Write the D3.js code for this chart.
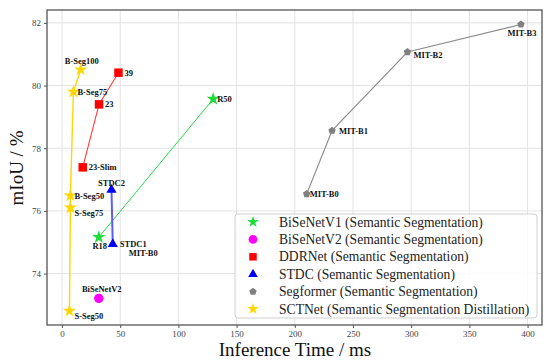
<!DOCTYPE html>
<html>
<head>
<meta charset="utf-8">
<script src="https://cdn.jsdelivr.net/npm/d3@7"></script>
<style>
  body { margin: 0; background: #fff; }
  svg { display: block; }
  text { font-family: "Liberation Serif", "Times New Roman", serif; }
</style>
</head>
<body>
<svg id="chart" width="550" height="364"></svg>
<script>
// values
const bisenetV1Time = [31.6, 129.9]
const bisenetV1Miou = [75.16, 79.57]
const bisenetV1Labels = ['R18', 'R50']

const bisenetV2Time = [31.6]
const bisenetV2Miou = [73.21]
const bisenetV2Labels = ['BiSeNetV2']

const ddrnetTime = [17.8, 31.8, 48.5]
const ddrnetMiou = [77.39, 79.4, 80.41]
const ddrnetLabels = ['23-Slim', '23', '39']

const stdcTime = [43.6, 42.5]
const stdcMiou = [74.94, 76.67]
const stdcLabels = ['STDC1', 'STDC2']

const segformerTime = [210.2, 232, 296.8, 394.3]
const segformerMiou = [76.54, 78.56, 81.07, 81.95]
const segformerLabels = ['MIT-B0', 'MIT-B1', 'MIT-B2', 'MIT-B3']

const sctnetTime = [6.4, 7.2, 7.2, 9.8, 16.1]
const sctnetMiou = [72.81, 76.1, 76.49, 79.8, 80.51]
const sctnetLabels = ['S-Seg50', 'S-Seg75', 'B-Seg50', 'B-Seg75', 'B-Seg100']

const xTicks = [0, 50, 100, 150, 200, 250, 300, 350, 400]
const yTicks = [74, 76, 78, 80, 82]

// stray label that sits next to STDC1 in the original
const extraNote = { text: 'MIT-B0', time: 43.6, miou: 74.94 }

const width = 550
const height = 364
const margin = { top: 10, right: 8, bottom: 39, left: 47 }

const svg = d3.select('#chart')

const x = d3.scaleLinear()
  .domain([-12.9, 412.4])
  .range([margin.left, width - margin.right])

const y = d3.scaleLinear()
  .domain([72.36, 82.41])
  .range([height - margin.bottom, margin.top])

const pentagon = {
  draw(context, size) {
    const r = Math.sqrt(size / 2.378)
    for (let i = 0; i < 5; i++) {
      const a = -Math.PI / 2 + i * 2 * Math.PI / 5
      const px = r * Math.cos(a)
      const py = r * Math.sin(a)
      if (i === 0) context.moveTo(px, py)
      else context.lineTo(px, py)
    }
    context.closePath()
  },
}

const zip = (t, m, l) => t.map((d, i) => ({ time: d, miou: m[i], label: l[i] }))

const series = [
  { name: 'BiSeNetV1 (Semantic Segmentation)', points: zip(bisenetV1Time, bisenetV1Miou, bisenetV1Labels),
    color: '#1fdc3a', lineColor: '#22dd44', lineWidth: 1, symbol: d3.symbolStar, size: 55, legendSize: 42 },
  { name: 'BiSeNetV2 (Semantic Segmentation)', points: zip(bisenetV2Time, bisenetV2Miou, bisenetV2Labels),
    color: '#ff00ff', lineColor: null, symbol: d3.symbolCircle, size: 70, legendSize: 60 },
  { name: 'DDRNet (Semantic Segmentation)', points: zip(ddrnetTime, ddrnetMiou, ddrnetLabels),
    color: '#ff0000', lineColor: '#ff3b3b', lineWidth: 1.1, symbol: d3.symbolSquare, size: 72, legendSize: 56 },
  { name: 'STDC (Semantic Segmentation)', points: zip(stdcTime, stdcMiou, stdcLabels),
    color: '#0000ff', lineColor: '#5b5bff', lineWidth: 2, symbol: d3.symbolTriangle, size: 45, legendSize: 40 },
  { name: 'Segformer (Semantic Segmentation)', points: zip(segformerTime, segformerMiou, segformerLabels),
    color: '#808080', lineColor: '#8c8c8c', lineWidth: 1.1, symbol: pentagon, size: 36, legendSize: 36 },
  { name: 'SCTNet (Semantic Segmentation Distillation)', points: zip(sctnetTime, sctnetMiou, sctnetLabels),
    color: '#ffd700', lineColor: '#ffd700', lineWidth: 1.4, symbol: d3.symbolStar, size: 55, legendSize: 42 },
]

// label placement: [dx, dy, anchor]
const labelPlace = {
  'R18': [1, 12, 'middle'],
  'R50': [4, 3, 'start'],
  'BiSeNetV2': [3, -6, 'middle'],
  '23-Slim': [6, 3, 'start'],
  '23': [6, 3, 'start'],
  '39': [6, 3, 'start'],
  'STDC1': [7, 3, 'start'],
  'STDC2': [0, -4, 'middle'],
  'MIT-B0': [3, 3, 'start'],
  'MIT-B1': [7, 3, 'start'],
  'MIT-B2': [6, 6, 'start'],
  'MIT-B3': [1, 12, 'middle'],
  'S-Seg50': [5, 8, 'start'],
  'S-Seg75': [4, 8, 'start'],
  'B-Seg50': [4, 3, 'start'],
  'B-Seg75': [4, 3, 'start'],
  'B-Seg100': [1, -6, 'middle'],
}

// grid
svg.append('g')
  .selectAll('line')
  .data(xTicks)
  .join('line')
  .attr('x1', (d) => x(d))
  .attr('x2', (d) => x(d))
  .attr('y1', margin.top)
  .attr('y2', height - margin.bottom)
  .attr('stroke', '#e3e3e3')
  .attr('stroke-width', 1)

svg.append('g')
  .selectAll('line')
  .data(yTicks)
  .join('line')
  .attr('x1', margin.left)
  .attr('x2', width - margin.right)
  .attr('y1', (d) => y(d))
  .attr('y2', (d) => y(d))
  .attr('stroke', '#e3e3e3')
  .attr('stroke-width', 1)

// axes
const xAxis = svg.append('g')
  .attr('transform', `translate(0,${height - margin.bottom})`)
  .call(d3.axisBottom(x).tickValues(xTicks).tickSize(3).tickPadding(3))
const yAxis = svg.append('g')
  .attr('transform', `translate(${margin.left},0)`)
  .call(d3.axisLeft(y).tickValues(yTicks).tickSize(3).tickPadding(3))

;[xAxis, yAxis].forEach((g) => {
  g.select('.domain').remove()
  g.selectAll('.tick line').attr('stroke', '#555')
  g.selectAll('.tick text')
    .attr('fill', '#444')
    .style('font-size', '9px')
    .style('font-family', '"Liberation Serif", serif')
})

// frame
svg.append('rect')
  .attr('x', margin.left)
  .attr('y', margin.top)
  .attr('width', width - margin.left - margin.right)
  .attr('height', height - margin.top - margin.bottom)
  .attr('fill', 'none')
  .attr('stroke', '#555')
  .attr('stroke-width', 1.3)

// lines
const line = d3.line()
  .x((d) => x(d.time))
  .y((d) => y(d.miou))

svg.append('g')
  .selectAll('path')
  .data(series.filter((s) => s.lineColor && s.points.length > 1))
  .join('path')
  .attr('d', (s) => line(s.points))
  .attr('fill', 'none')
  .attr('stroke', (s) => s.lineColor)
  .attr('stroke-width', (s) => s.lineWidth)

// markers
series.forEach((s) => {
  svg.append('g')
    .selectAll('path')
    .data(s.points)
    .join('path')
    .attr('transform', (d) => `translate(${x(d.time)},${y(d.miou)})`)
    .attr('d', d3.symbol().type(s.symbol).size(s.size))
    .attr('fill', s.color)
})

// point labels
const allPoints = series.flatMap((s) => s.points)
svg.append('g')
  .selectAll('text')
  .data(allPoints)
  .join('text')
  .attr('x', (d) => x(d.time) + labelPlace[d.label][0])
  .attr('y', (d) => y(d.miou) + labelPlace[d.label][1])
  .attr('text-anchor', (d) => labelPlace[d.label][2])
  .style('font-size', '8.5px')
  .style('font-weight', 'bold')
  .attr('fill', '#111')
  .text((d) => d.label)

svg.append('text')
  .attr('x', x(extraNote.time) + 16)
  .attr('y', y(extraNote.miou) + 12)
  .style('font-size', '8.5px')
  .style('font-weight', 'bold')
  .attr('fill', '#111')
  .text(extraNote.text)

// axis titles
svg.append('text')
  .attr('x', 295)
  .attr('y', 356)
  .attr('text-anchor', 'middle')
  .style('font-size', '19px')
  .attr('fill', '#111')
  .text('Inference Time / ms')

svg.append('text')
  .attr('transform', 'translate(23,168) rotate(-90)')
  .attr('text-anchor', 'middle')
  .style('font-size', '19px')
  .attr('fill', '#111')
  .text('mIoU / %')

// legend
const legend = svg.append('g').attr('transform', 'translate(235,214)')
legend.append('rect')
  .attr('width', 302)
  .attr('height', 104)
  .attr('rx', 3)
  .attr('fill', 'rgba(255,255,255,0.85)')
  .attr('stroke', '#d0d0d0')
  .attr('stroke-width', 1)

const rows = legend.selectAll('g.row')
  .data(series)
  .join('g')
  .attr('class', 'row')
  .attr('transform', (d, i) => `translate(0,${8 + i * 17.4})`)

rows.append('path')
  .attr('transform', 'translate(18,0)')
  .attr('d', (s) => d3.symbol().type(s.symbol).size(s.legendSize)())
  .attr('fill', (s) => s.color)

rows.append('text')
  .attr('x', 44)
  .attr('y', 4.5)
  .style('font-size', '13.6px')
  .attr('fill', '#222')
  .text((s) => s.name)
</script>
</body>
</html>
